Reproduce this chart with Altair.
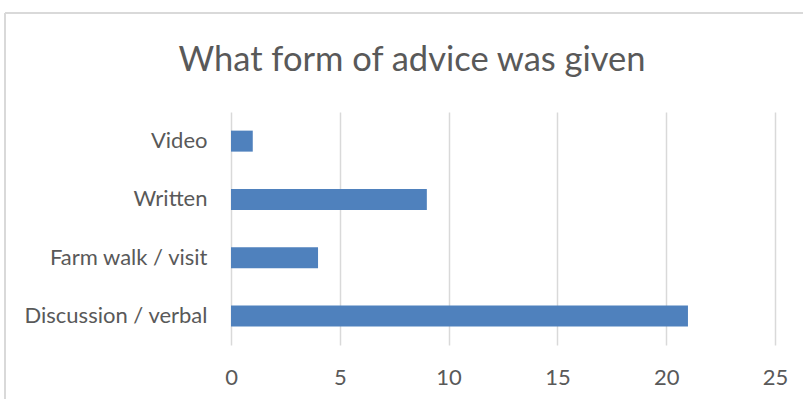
import altair as alt
import pandas as pd

categories = ["Video", "Written", "Farm walk / visit", "Discussion / verbal"]
values = [1, 9, 4, 21]
x_ticks = [0, 5, 10, 15, 20, 25]

df = pd.DataFrame({"form": categories, "count": values})

FONT = "Lato"
GREY = "#595959"
LINE = "#d9d9d9"

bars = alt.Chart(df).mark_bar(color="#4f81bd", size=21).encode(
    x=alt.X("count:Q",
            scale=alt.Scale(domain=[0, 25], nice=False),
            axis=alt.Axis(values=x_ticks, title=None, domain=False, ticks=False,
                          grid=True, gridColor=LINE, gridWidth=1.5,
                          labelFlush=False, labelOverlap=False,
                          labelFont=FONT, labelFontSize=22, labelColor=GREY,
                          labelPadding=22)),
    y=alt.Y("form:N", sort=categories,
            scale=alt.Scale(paddingInner=0.64, paddingOuter=0.32),
            axis=alt.Axis(title=None, domain=False, ticks=False, grid=False,
                          labelLimit=400,
                          labelFont=FONT, labelFontSize=22, labelColor=GREY,
                          labelPadding=24)),
)

border_left = alt.Chart(df).mark_rule(color=LINE, strokeWidth=1.5, clip=False).encode(
    x=alt.value(-226), y=alt.value(-99), y2=alt.value(400)
)
border_top = alt.Chart(df).mark_rule(color=LINE, strokeWidth=1.5, clip=False).encode(
    x=alt.value(-226), x2=alt.value(600), y=alt.value(-99)
)

chart = alt.layer(border_left, border_top, bars).properties(
    width=544,
    height=233,
    padding={"left": 231, "top": 112, "right": 28, "bottom": 54},
    autosize=alt.AutoSizeParams(type="none"),
    title=alt.TitleParams("What form of advice was given", font=FONT, fontSize=34.5,
                          fontWeight="normal", color=GREY, anchor="middle",
                          frame="group", baseline="alphabetic", offset=-93, dx=-91),
).configure_view(stroke=None)

chart.save("out.html", embed_options={"renderer": "svg", "actions": False})
